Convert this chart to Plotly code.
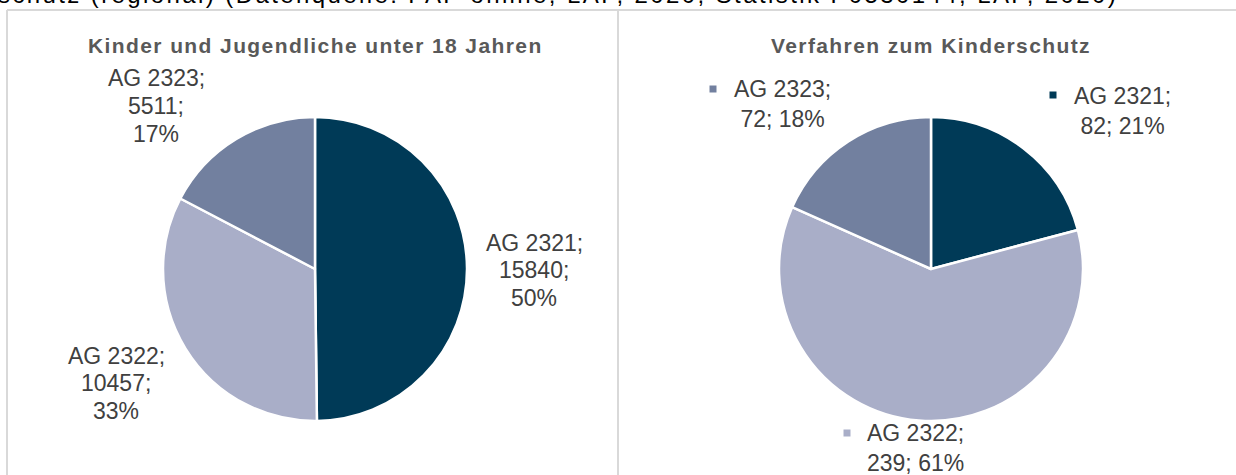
import plotly.graph_objects as go

# Data
groups = ["AG 2321", "AG 2322", "AG 2323"]
kinder_values = [15840, 10457, 5511]
verfahren_values = [82, 239, 72]
colors = ["#003A57", "#A9AEC8", "#72809F"]
title_left = "Kinder und Jugendliche unter 18 Jahren"
title_right = "Verfahren zum Kinderschutz"
top_text = "schutz (regional) (Datenquelle: PAP online; LAP, 2020; Statistik P0530144; LAP, 2020)"

W, H = 1236, 475
FONT = "Liberation Sans, Arial, sans-serif"
label_font = dict(family=FONT, size=23, color="#404040")

fig = go.Figure()
fig.add_trace(go.Pie(
    labels=groups, values=kinder_values, sort=False, direction="clockwise", rotation=0,
    marker=dict(colors=colors, line=dict(color="white", width=2.5)),
    textinfo="none", hoverinfo="label+value+percent",
    domain=dict(x=[163 / W, 467 / W], y=[(H - 421) / H, (H - 117) / H]),
    showlegend=False,
))
fig.add_trace(go.Pie(
    labels=groups, values=verfahren_values, sort=False, direction="clockwise", rotation=0,
    marker=dict(colors=colors, line=dict(color="white", width=2.5)),
    textinfo="none", hoverinfo="label+value+percent",
    domain=dict(x=[779 / W, 1083 / W], y=[(H - 421) / H, (H - 117) / H]),
    showlegend=False,
))

def pct(vals, i):
    return round(100 * vals[i] / sum(vals))

def ann(px, py, text, font, **kw):
    fig.add_annotation(x=px / W, y=1 - py / H, xref="paper", yref="paper", text=text,
                       showarrow=False, font=font, **kw)

# left chart labels (pixel centres), one annotation per line for tighter spacing
left_pos = [(534, 270), (116, 383), (156, 106)]
LINE = 27.5
for i, (px, py) in enumerate(left_pos):
    lines = [f"{groups[i]};", f"{kinder_values[i]};", f"{pct(kinder_values, i)}%"]
    for k, ln in enumerate(lines):
        ann(px, py + (k - 1) * LINE, ln, label_font, xanchor="center", yanchor="middle")

# right chart labels + legend-key squares
right_pos = [(1122, 111), (915, 448), (782, 104)]
marker_pos = [(1053, 95), (847, 433), (713, 89)]
for i, (px, py) in enumerate(right_pos):
    txt = f"{groups[i]};<br>{verfahren_values[i]}; {pct(verfahren_values, i)}%"
    ann(px, py, txt, label_font, align="center", xanchor="center", yanchor="middle")
    mx, my = marker_pos[i]
    fig.add_shape(type="rect", xref="paper", yref="paper",
                  x0=(mx - 3.5) / W, x1=(mx + 3.5) / W, y0=1 - (my + 3.5) / H, y1=1 - (my - 3.5) / H,
                  fillcolor=colors[i], line=dict(width=0))

# Titles
for t, cx in [(title_left, 315), (title_right, 931)]:
    ann(cx, 46, f"<span style='letter-spacing:1.4px'><b>{t}</b></span>",
        dict(family=FONT, size=21, color="#595959"), xanchor="center", yanchor="middle")

# Top cut-off text
fig.add_annotation(x=0, y=1, xref="paper", yref="paper",
                   text=f"<span style='letter-spacing:2.4px'>{top_text}</span>", showarrow=False,
                   xanchor="left", yanchor="middle", yshift=6, xshift=-4,
                   font=dict(family=FONT, size=24, color="#000000"))

# Panel borders
border = dict(color="#D9D9D9", width=2)
fig.add_shape(type="line", xref="paper", yref="paper", x0=7 / W, x1=1, y0=1 - 10 / H, y1=1 - 10 / H, line=border)
fig.add_shape(type="line", xref="paper", yref="paper", x0=7 / W, x1=7 / W, y0=0, y1=1 - 10 / H, line=border)
fig.add_shape(type="line", xref="paper", yref="paper", x0=618 / W, x1=618 / W, y0=0, y1=1 - 10 / H, line=border)

fig.update_layout(width=W, height=H, margin=dict(l=0, r=0, t=0, b=0),
                  paper_bgcolor="white", plot_bgcolor="white")
fig.write_html("out.html", config={"displayModeBar": False},
               post_script="document.body.style.margin='0';document.body.style.overflow='hidden';")
